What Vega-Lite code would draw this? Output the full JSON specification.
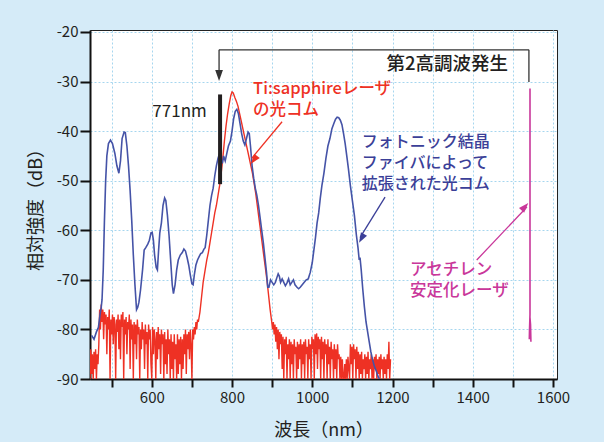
{
  "$schema": "https://vega.github.io/schema/vega-lite/v6.json",
  "width": 467,
  "height": 349,
  "autosize": {"type": "none"},
  "padding": {"left": 90, "top": 30, "right": 47, "bottom": 63},
  "background": "#d5ebf8",
  "config": {
    "view": {"stroke": "#222222", "strokeWidth": 1, "fill": "white"},
    "font": "Noto Sans CJK JP"
  },
  "datasets": {
    "blue": [
      {"nm":450,"db":-81.2},{"nm":456,"db":-82.0},{"nm":462,"db":-80.5},{"nm":467,"db":-79.6},{"nm":471,"db":-77},{"nm":474,"db":-75.5},{"nm":476,"db":-74},{"nm":479,"db":-68},{"nm":482,"db":-58},{"nm":485,"db":-50},{"nm":488,"db":-45},{"nm":492,"db":-42.5},{"nm":497,"db":-41.8},{"nm":502,"db":-42.5},{"nm":508,"db":-44.5},{"nm":513,"db":-47},{"nm":518,"db":-48.5},{"nm":522,"db":-46},{"nm":526,"db":-41.5},{"nm":531,"db":-40.2},{"nm":534,"db":-40.3},{"nm":538,"db":-43},{"nm":542,"db":-47},{"nm":546,"db":-52},{"nm":550,"db":-58},{"nm":554,"db":-65},{"nm":558,"db":-71},{"nm":562,"db":-76},{"nm":565,"db":-75.5},{"nm":568,"db":-74.5},{"nm":572,"db":-72},{"nm":577,"db":-68},{"nm":581,"db":-64},{"nm":585,"db":-63.5},{"nm":590,"db":-62.8},{"nm":594,"db":-62},{"nm":598,"db":-60.5},{"nm":601,"db":-60.4},{"nm":604,"db":-62},{"nm":607,"db":-65},{"nm":611,"db":-67.5},{"nm":614,"db":-68},{"nm":617,"db":-64},{"nm":620,"db":-60.5},{"nm":624,"db":-58.5},{"nm":628,"db":-55},{"nm":632,"db":-53.5},{"nm":635,"db":-54},{"nm":639,"db":-57},{"nm":643,"db":-61},{"nm":647,"db":-66},{"nm":651,"db":-71},{"nm":654,"db":-72.8},{"nm":658,"db":-71},{"nm":662,"db":-68},{"nm":666,"db":-66},{"nm":671,"db":-65},{"nm":676,"db":-64.5},{"nm":680,"db":-63.8},{"nm":684,"db":-64.2},{"nm":688,"db":-65.5},{"nm":692,"db":-67},{"nm":696,"db":-69},{"nm":700,"db":-70.8},{"nm":703,"db":-71},{"nm":706,"db":-69},{"nm":710,"db":-67},{"nm":714,"db":-66},{"nm":718,"db":-65.3},{"nm":722,"db":-64.7},{"nm":726,"db":-64.5},{"nm":730,"db":-63.8},{"nm":733,"db":-63.5},{"nm":737,"db":-61},{"nm":741,"db":-58},{"nm":745,"db":-55},{"nm":749,"db":-53},{"nm":753,"db":-51.5},{"nm":757,"db":-49},{"nm":761,"db":-47},{"nm":765,"db":-45.5},{"nm":769,"db":-44.5},{"nm":772,"db":-45.5},{"nm":776,"db":-46.5},{"nm":779,"db":-45},{"nm":783,"db":-46},{"nm":787,"db":-44.5},{"nm":791,"db":-43},{"nm":796,"db":-42},{"nm":800,"db":-40},{"nm":804,"db":-37.5},{"nm":808,"db":-36},{"nm":812,"db":-35.6},{"nm":816,"db":-36.5},{"nm":820,"db":-38.5},{"nm":824,"db":-40.5},{"nm":828,"db":-42},{"nm":832,"db":-42.8},{"nm":836,"db":-41.5},{"nm":840,"db":-40.2},{"nm":843,"db":-40.5},{"nm":846,"db":-43},{"nm":850,"db":-47},{"nm":854,"db":-49.5},{"nm":858,"db":-51.5},{"nm":862,"db":-53},{"nm":866,"db":-55},{"nm":870,"db":-57.5},{"nm":874,"db":-60},{"nm":878,"db":-62.5},{"nm":882,"db":-65.5},{"nm":886,"db":-68.5},{"nm":889,"db":-71.5},{"nm":892,"db":-71.5},{"nm":896,"db":-70},{"nm":900,"db":-70.5},{"nm":904,"db":-71},{"nm":908,"db":-70.5},{"nm":912,"db":-69.5},{"nm":915,"db":-68.8},{"nm":918,"db":-69.3},{"nm":921,"db":-70.5},{"nm":925,"db":-69.8},{"nm":929,"db":-70.5},{"nm":933,"db":-71.2},{"nm":937,"db":-70.6},{"nm":941,"db":-69.8},{"nm":945,"db":-71},{"nm":949,"db":-70.5},{"nm":953,"db":-70},{"nm":957,"db":-71},{"nm":962,"db":-71.5},{"nm":966,"db":-71.8},{"nm":970,"db":-71.5},{"nm":975,"db":-71},{"nm":980,"db":-70.5},{"nm":985,"db":-70},{"nm":990,"db":-69.8},{"nm":995,"db":-68.5},{"nm":1000,"db":-66.5},{"nm":1004,"db":-64},{"nm":1008,"db":-61.5},{"nm":1012,"db":-58.5},{"nm":1016,"db":-56.5},{"nm":1020,"db":-53.5},{"nm":1024,"db":-51},{"nm":1029,"db":-48.5},{"nm":1034,"db":-45.5},{"nm":1039,"db":-43},{"nm":1044,"db":-41.5},{"nm":1049,"db":-39.5},{"nm":1054,"db":-38.4},{"nm":1058,"db":-37.6},{"nm":1062,"db":-37.2},{"nm":1066,"db":-37.3},{"nm":1070,"db":-37.8},{"nm":1074,"db":-38.7},{"nm":1078,"db":-40.5},{"nm":1082,"db":-42.5},{"nm":1086,"db":-45},{"nm":1090,"db":-47.5},{"nm":1095,"db":-51},{"nm":1100,"db":-54},{"nm":1105,"db":-57},{"nm":1110,"db":-61},{"nm":1114,"db":-63.5},{"nm":1117,"db":-66},{"nm":1119,"db":-65.5},{"nm":1122,"db":-68},{"nm":1126,"db":-72},{"nm":1130,"db":-75.5},{"nm":1134,"db":-78.5},{"nm":1138,"db":-80.5},{"nm":1142,"db":-82.5},{"nm":1146,"db":-84.5},{"nm":1150,"db":-86},{"nm":1155,"db":-87.5},{"nm":1160,"db":-88.5},{"nm":1165,"db":-89.7},{"nm":1168,"db":-90}
    ],
    "red": [
      {"nm":446,"db":-90},{"nm":448,"db":-84},{"nm":450,"db":-89},{"nm":452,"db":-85},{"nm":454,"db":-90},{"nm":456,"db":-84.5},{"nm":458,"db":-88},{"nm":460,"db":-84},{"nm":462,"db":-90},{"nm":464,"db":-85},{"nm":466,"db":-87},{"nm":468,"db":-83},{"nm":470,"db":-76},{"nm":472,"db":-80},{"nm":474,"db":-75},{"nm":476,"db":-78.5},{"nm":478,"db":-76},{"nm":480,"db":-82},{"nm":482,"db":-76.5},{"nm":484,"db":-79},{"nm":486,"db":-77},{"nm":488,"db":-85},{"nm":490,"db":-77.5},{"nm":492,"db":-80},{"nm":494,"db":-76},{"nm":496,"db":-90},{"nm":498,"db":-78},{"nm":500,"db":-81},{"nm":502,"db":-77},{"nm":504,"db":-83},{"nm":506,"db":-77.5},{"nm":508,"db":-79},{"nm":510,"db":-90},{"nm":512,"db":-78},{"nm":514,"db":-80.5},{"nm":516,"db":-77},{"nm":518,"db":-84},{"nm":520,"db":-78},{"nm":522,"db":-86},{"nm":524,"db":-77},{"nm":526,"db":-79.5},{"nm":528,"db":-76.5},{"nm":530,"db":-90},{"nm":532,"db":-78},{"nm":534,"db":-81},{"nm":536,"db":-77.5},{"nm":538,"db":-85},{"nm":540,"db":-78.5},{"nm":542,"db":-80},{"nm":544,"db":-77},{"nm":546,"db":-88},{"nm":548,"db":-78},{"nm":550,"db":-82},{"nm":552,"db":-79},{"nm":554,"db":-90},{"nm":556,"db":-78.5},{"nm":558,"db":-83},{"nm":560,"db":-79},{"nm":562,"db":-86},{"nm":564,"db":-78},{"nm":566,"db":-81},{"nm":568,"db":-79.5},{"nm":570,"db":-90},{"nm":572,"db":-80},{"nm":574,"db":-84},{"nm":576,"db":-78.5},{"nm":578,"db":-82},{"nm":580,"db":-80},{"nm":582,"db":-88},{"nm":584,"db":-79},{"nm":586,"db":-83},{"nm":588,"db":-80.5},{"nm":590,"db":-90},{"nm":592,"db":-79},{"nm":594,"db":-82},{"nm":596,"db":-80},{"nm":598,"db":-87},{"nm":600,"db":-90},{"nm":602,"db":-79.5},{"nm":604,"db":-85},{"nm":606,"db":-80},{"nm":608,"db":-82},{"nm":610,"db":-90},{"nm":612,"db":-80.5},{"nm":614,"db":-86},{"nm":616,"db":-79.5},{"nm":618,"db":-84},{"nm":620,"db":-81},{"nm":622,"db":-89},{"nm":624,"db":-80},{"nm":626,"db":-83},{"nm":628,"db":-81},{"nm":630,"db":-90},{"nm":632,"db":-80.5},{"nm":634,"db":-87},{"nm":636,"db":-82},{"nm":638,"db":-89},{"nm":640,"db":-80},{"nm":642,"db":-85},{"nm":644,"db":-82},{"nm":646,"db":-90},{"nm":648,"db":-81},{"nm":650,"db":-88},{"nm":652,"db":-82.5},{"nm":654,"db":-90},{"nm":656,"db":-81},{"nm":658,"db":-86},{"nm":660,"db":-83},{"nm":662,"db":-90},{"nm":664,"db":-81},{"nm":666,"db":-89},{"nm":668,"db":-82},{"nm":670,"db":-87},{"nm":672,"db":-81.5},{"nm":674,"db":-90},{"nm":676,"db":-82},{"nm":678,"db":-88},{"nm":680,"db":-81},{"nm":682,"db":-85},{"nm":684,"db":-80},{"nm":686,"db":-89},{"nm":688,"db":-81},{"nm":690,"db":-84},{"nm":692,"db":-80.5},{"nm":694,"db":-86},{"nm":696,"db":-80},{"nm":698,"db":-83},{"nm":700,"db":-90},{"nm":702,"db":-80},{"nm":704,"db":-82},{"nm":706,"db":-79.5},{"nm":708,"db":-81},{"nm":710,"db":-78.5},{"nm":712,"db":-80},{"nm":714,"db":-78},{"nm":716,"db":-78.5},
      {"nm":720,"db":-76.5},{"nm":724,"db":-73.5},{"nm":728,"db":-70.5},{"nm":733,"db":-68},{"nm":737,"db":-66},{"nm":741,"db":-64.5},{"nm":745,"db":-62.5},{"nm":749,"db":-60.5},{"nm":753,"db":-58.5},{"nm":757,"db":-56.5},{"nm":761,"db":-55},{"nm":765,"db":-53},{"nm":769,"db":-51},{"nm":773,"db":-48.5},{"nm":777,"db":-45.5},{"nm":781,"db":-42},{"nm":785,"db":-39},{"nm":789,"db":-36.5},{"nm":793,"db":-34.5},{"nm":797,"db":-32.8},{"nm":800,"db":-32.1},{"nm":803,"db":-32.3},{"nm":807,"db":-33.2},{"nm":811,"db":-34},{"nm":815,"db":-35},{"nm":819,"db":-36.5},{"nm":823,"db":-38},{"nm":827,"db":-39.5},{"nm":831,"db":-41},{"nm":835,"db":-42.5},{"nm":839,"db":-44},{"nm":843,"db":-45.5},{"nm":847,"db":-47},{"nm":851,"db":-48.5},{"nm":855,"db":-50.5},{"nm":859,"db":-52.5},{"nm":863,"db":-55},{"nm":867,"db":-57.5},{"nm":871,"db":-60},{"nm":875,"db":-62.5},{"nm":879,"db":-65},{"nm":883,"db":-67.5},{"nm":887,"db":-70},{"nm":891,"db":-73},{"nm":895,"db":-76},
      {"nm":899,"db":-78.5},{"nm":901,"db":-80},{"nm":903,"db":-78.5},{"nm":905,"db":-81},{"nm":907,"db":-79},{"nm":909,"db":-82.5},{"nm":911,"db":-79.5},{"nm":913,"db":-84},{"nm":915,"db":-80},{"nm":917,"db":-86},{"nm":919,"db":-80.5},{"nm":921,"db":-83},{"nm":923,"db":-81},{"nm":925,"db":-88},{"nm":927,"db":-81.5},{"nm":929,"db":-90},{"nm":931,"db":-82},{"nm":933,"db":-85},{"nm":935,"db":-81.5},{"nm":937,"db":-90},{"nm":939,"db":-83},{"nm":941,"db":-86},{"nm":943,"db":-82},{"nm":945,"db":-90},{"nm":947,"db":-82.5},{"nm":949,"db":-87},{"nm":951,"db":-83},{"nm":953,"db":-90},{"nm":955,"db":-82},{"nm":957,"db":-85},{"nm":959,"db":-83.5},{"nm":961,"db":-90},{"nm":963,"db":-82.5},{"nm":965,"db":-88},{"nm":967,"db":-83},{"nm":969,"db":-86},{"nm":971,"db":-82},{"nm":973,"db":-90},{"nm":975,"db":-83},{"nm":977,"db":-87},{"nm":979,"db":-82.5},{"nm":981,"db":-90},{"nm":983,"db":-82},{"nm":985,"db":-85},{"nm":987,"db":-83.5},{"nm":989,"db":-90},{"nm":991,"db":-82},{"nm":993,"db":-86},{"nm":995,"db":-83},{"nm":997,"db":-90},{"nm":999,"db":-81.5},{"nm":1001,"db":-84},{"nm":1003,"db":-82},{"nm":1005,"db":-90},{"nm":1007,"db":-81},{"nm":1009,"db":-85},{"nm":1011,"db":-80.8},{"nm":1013,"db":-88},{"nm":1015,"db":-81.5},{"nm":1017,"db":-84},{"nm":1019,"db":-82},{"nm":1021,"db":-90},{"nm":1023,"db":-81.5},{"nm":1025,"db":-86},{"nm":1027,"db":-82.5},{"nm":1029,"db":-90},{"nm":1031,"db":-82},{"nm":1033,"db":-85},{"nm":1035,"db":-83},{"nm":1037,"db":-90},{"nm":1039,"db":-82},{"nm":1041,"db":-87},{"nm":1043,"db":-83.5},{"nm":1045,"db":-90},{"nm":1047,"db":-82.5},{"nm":1049,"db":-86},{"nm":1051,"db":-84},{"nm":1053,"db":-90},{"nm":1055,"db":-83},{"nm":1057,"db":-88},{"nm":1059,"db":-84},{"nm":1061,"db":-90},{"nm":1063,"db":-83},{"nm":1065,"db":-86},{"nm":1067,"db":-85},{"nm":1069,"db":-90},{"nm":1071,"db":-85.5},{"nm":1073,"db":-90},{"nm":1075,"db":-86},{"nm":1077,"db":-90},{"nm":1079,"db":-90},{"nm":1081,"db":-87},{"nm":1083,"db":-90},{"nm":1085,"db":-86},{"nm":1087,"db":-90},{"nm":1089,"db":-85.5},{"nm":1091,"db":-88},{"nm":1093,"db":-90},{"nm":1095,"db":-83},{"nm":1097,"db":-87},{"nm":1099,"db":-83.5},{"nm":1101,"db":-90},{"nm":1103,"db":-83},{"nm":1105,"db":-86},{"nm":1107,"db":-84},{"nm":1109,"db":-90},{"nm":1111,"db":-83.5},{"nm":1113,"db":-88},{"nm":1115,"db":-84.5},{"nm":1117,"db":-90},{"nm":1119,"db":-85},{"nm":1121,"db":-89},{"nm":1123,"db":-84.5},{"nm":1125,"db":-90},{"nm":1127,"db":-86},{"nm":1129,"db":-88},{"nm":1131,"db":-85},{"nm":1133,"db":-90},{"nm":1135,"db":-85.5},{"nm":1137,"db":-89},{"nm":1139,"db":-84.5},{"nm":1141,"db":-90},{"nm":1143,"db":-86},{"nm":1145,"db":-88},{"nm":1147,"db":-85},{"nm":1149,"db":-90},{"nm":1151,"db":-86},{"nm":1153,"db":-90},{"nm":1155,"db":-85.5},{"nm":1157,"db":-88},{"nm":1159,"db":-85},{"nm":1161,"db":-90},{"nm":1163,"db":-86},{"nm":1165,"db":-89},{"nm":1167,"db":-85.5},{"nm":1169,"db":-90},{"nm":1171,"db":-85},{"nm":1173,"db":-88},{"nm":1175,"db":-86},{"nm":1177,"db":-90},{"nm":1179,"db":-85.5},{"nm":1181,"db":-89},{"nm":1183,"db":-86},{"nm":1185,"db":-90},{"nm":1187,"db":-85},{"nm":1189,"db":-88},{"nm":1191,"db":-82.5},{"nm":1193,"db":-90},{"nm":1195,"db":-86}
    ],
    "magenta": [
      {"k":0,"nm":1542.7,"db":-31.4},{"k":1,"nm":1542.7,"db":-77},{"k":2,"nm":1541.5,"db":-80},{"k":3,"nm":1541,"db":-82},{"k":4,"nm":1542.5,"db":-77.5},{"k":5,"nm":1544,"db":-79},{"k":6,"nm":1545,"db":-82.5}
    ],
    "lines": [
      {"series":"shg","x":767.7,"x2":1540,"y":-23.6,"y2":-23.6},
      {"series":"shg","x":1540,"x2":1540,"y":-23.6,"y2":-30.1},
      {"series":"shg","x":767.7,"x2":767.7,"y":-23.6,"y2":-28},
      {"series":"ti","x":924.7,"x2":849,"y":-38.1,"y2":-45.5},
      {"series":"pcf","x":1181.4,"x2":1119,"y":-53.3,"y2":-61.5},
      {"series":"acet","x":1409.9,"x2":1535,"y":-66.0,"y2":-55.3}
    ],
    "bar": [
      {"series":"mark","x":770.2,"y":-32.6,"y2":-50.7}
    ],
    "heads": [
      {"series":"shg","x":767.7,"y":-29.9},
      {"series":"ti","x":847.4,"y":-46.6},
      {"series":"pcf","x":1116.6,"y":-62.5},
      {"series":"acet","x":1538.4,"y":-54.5}
    ],
    "labels": [
      {"series":"mark","x":737,"y":-36.1,"text":["771nm"]},
      {"series":"shg","x":1488,"y":-26.5,"text":["第2高調波発生"]},
      {"series":"ti","x":852.4,"y":-31.5,"text":["Ti:sapphireレーザ","の光コム"]},
      {"series":"pcf","x":1123.3,"y":-42.2,"text":["フォトニック結晶","ファイバによって","拡張された光コム"]},
      {"series":"acet","x":1243.7,"y":-68.0,"text":["アセチレン","安定化レーザ"]}
    ]
  },
  "encoding": {
    "x": {
      "field": "nm", "type": "quantitative",
      "scale": {"domain": [446, 1610], "nice": false, "zero": false},
      "axis": {
        "values": [500,600,700,800,900,1000,1100,1200,1300,1400,1500,1600],
        "labelExpr": "datum.value % 200 === 0 ? '' + datum.value : ''",
        "tickSize": 8, "tickWidth": 2, "tickColor": "#111111",
        "domainColor": "#111111", "domainWidth": 2,
        "grid": true, "gridColor": "#a6d6ef", "gridDash": [2, 2], "gridWidth": 1,
        "labelFontSize": 15, "labelColor": "#231f20", "labelPadding": 3,
        "title": "波長（nm）", "titleFontSize": 18, "titleFontWeight": "normal", "titleColor": "#231f20",
        "titleX": 233.5, "titleY": 51, "titleBaseline": "middle", "titleAlign": "center"
      }
    },
    "y": {
      "field": "db", "type": "quantitative",
      "scale": {"domain": [-90, -19.6], "nice": false, "zero": false},
      "axis": {
        "values": [-90,-80,-70,-60,-50,-40,-30,-20],
        "labelExpr": "'' + datum.value",
        "tickSize": 10, "tickWidth": 2, "tickColor": "#111111",
        "domainColor": "#111111", "domainWidth": 2,
        "grid": true, "gridColor": "#a6d6ef", "gridDash": [2, 2], "gridWidth": 1,
        "labelFontSize": 15, "labelColor": "#231f20", "labelPadding": 2,
        "title": "相対強度（dB）", "titleFontSize": 18, "titleFontWeight": "normal", "titleColor": "#231f20",
        "titleX": -54, "titleY": 175, "titleBaseline": "middle", "titleAlign": "center", "titleAngle": -90
      }
    }
  },
  "layer": [
    {
      "data": {"name": "red"},
      "mark": {"type": "line", "color": "#ee3124", "strokeWidth": 1.4, "clip": true},
      "encoding": {}
    },
    {
      "data": {"name": "blue"},
      "mark": {"type": "line", "color": "#4553a7", "strokeWidth": 1.6, "clip": true},
      "encoding": {}
    },
    {
      "data": {"name": "magenta"},
      "mark": {"type": "line", "color": "#c9379a", "strokeWidth": 1.6, "clip": true},
      "encoding": {"order": {"field": "k", "type": "quantitative"}}
    },
    {
      "data": {"name": "lines"},
      "mark": {"type": "rule", "strokeWidth": 1.3},
      "encoding": {
        "x": {"field": "x", "type": "quantitative"},
        "x2": {"field": "x2"},
        "y": {"field": "y", "type": "quantitative"},
        "y2": {"field": "y2"},
        "color": {"field": "series", "type": "nominal", "legend": null,
          "scale": {"domain": ["ti","pcf","acet","shg","mark"], "range": ["#ee3124","#3b3f98","#c9379a","#333333","#231f20"]}}
      }
    },
    {
      "data": {"name": "bar"},
      "mark": {"type": "rule", "strokeWidth": 4, "color": "#231f20"},
      "encoding": {
        "x": {"field": "x", "type": "quantitative"},
        "y": {"field": "y", "type": "quantitative"},
        "y2": {"field": "y2"}
      }
    },
    {
      "data": {"name": "heads"},
      "transform": [{"filter": "datum.series === 'shg'"}],
      "mark": {"type": "point", "shape": "M0,0L-0.7,-2L0.7,-2Z", "size": 121, "filled": true, "opacity": 1, "color": "#333333", "angle": 0},
      "encoding": {"x": {"field": "x", "type": "quantitative"}, "y": {"field": "y", "type": "quantitative"}}
    },
    {
      "data": {"name": "heads"},
      "transform": [{"filter": "datum.series === 'ti'"}],
      "mark": {"type": "point", "shape": "M0,0L-0.7,-2L0.7,-2Z", "size": 100, "filled": true, "opacity": 1, "color": "#ee3124", "angle": 36.4},
      "encoding": {"x": {"field": "x", "type": "quantitative"}, "y": {"field": "y", "type": "quantitative"}}
    },
    {
      "data": {"name": "heads"},
      "transform": [{"filter": "datum.series === 'pcf'"}],
      "mark": {"type": "point", "shape": "M0,0L-0.7,-2L0.7,-2Z", "size": 100, "filled": true, "opacity": 1, "color": "#3b3f98", "angle": 29.5},
      "encoding": {"x": {"field": "x", "type": "quantitative"}, "y": {"field": "y", "type": "quantitative"}}
    },
    {
      "data": {"name": "heads"},
      "transform": [{"filter": "datum.series === 'acet'"}],
      "mark": {"type": "point", "shape": "M0,0L-0.7,-2L0.7,-2Z", "size": 100, "filled": true, "opacity": 1, "color": "#c9379a", "angle": 222.3},
      "encoding": {"x": {"field": "x", "type": "quantitative"}, "y": {"field": "y", "type": "quantitative"}}
    },
    {
      "data": {"name": "labels"},
      "transform": [{"filter": "datum.series === 'mark'"}],
      "mark": {"type": "text", "align": "right", "baseline": "middle", "fontSize": 17, "color": "#231f20"},
      "encoding": {"x": {"field": "x", "type": "quantitative"}, "y": {"field": "y", "type": "quantitative"}, "text": {"field": "text"}}
    },
    {
      "data": {"name": "labels"},
      "transform": [{"filter": "datum.series === 'shg'"}],
      "mark": {"type": "text", "align": "right", "baseline": "middle", "fontSize": 18.5, "fontWeight": 500, "color": "#231f20"},
      "encoding": {"x": {"field": "x", "type": "quantitative"}, "y": {"field": "y", "type": "quantitative"}, "text": {"field": "text"}}
    },
    {
      "data": {"name": "labels"},
      "transform": [{"filter": "datum.series === 'ti'"}],
      "mark": {"type": "text", "align": "left", "baseline": "middle", "fontSize": 16.5, "lineHeight": 21, "fontWeight": 500, "color": "#ee3124"},
      "encoding": {"x": {"field": "x", "type": "quantitative"}, "y": {"field": "y", "type": "quantitative"}, "text": {"field": "text"}}
    },
    {
      "data": {"name": "labels"},
      "transform": [{"filter": "datum.series === 'pcf'"}],
      "mark": {"type": "text", "align": "left", "baseline": "middle", "fontSize": 16, "lineHeight": 21, "fontWeight": 500, "color": "#3b3f98"},
      "encoding": {"x": {"field": "x", "type": "quantitative"}, "y": {"field": "y", "type": "quantitative"}, "text": {"field": "text"}}
    },
    {
      "data": {"name": "labels"},
      "transform": [{"filter": "datum.series === 'acet'"}],
      "mark": {"type": "text", "align": "left", "baseline": "middle", "fontSize": 16.5, "lineHeight": 21, "fontWeight": 500, "color": "#c9379a"},
      "encoding": {"x": {"field": "x", "type": "quantitative"}, "y": {"field": "y", "type": "quantitative"}, "text": {"field": "text"}}
    }
  ]
}
